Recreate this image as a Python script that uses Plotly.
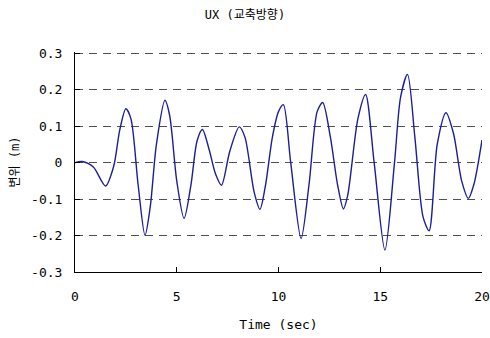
import plotly.graph_objects as go

time_s = [0, 0.35, 0.9, 1.5, 1.9, 2.2, 2.5, 2.75, 3.1, 3.44, 3.7, 4.0, 4.42, 4.65, 5.0, 5.36,
          5.7, 6.0, 6.26, 6.6, 6.9, 7.2, 7.6, 8.07, 8.35, 8.8, 9.09, 9.35, 9.7, 10.0, 10.24,
          10.6, 11.11, 11.5, 11.9, 12.17, 12.55, 12.9, 13.19, 13.4, 13.9, 14.28, 14.7, 15.23,
          15.7, 16.0, 16.34, 16.7, 17.1, 17.4, 17.8, 18.23, 18.6, 19.0, 19.33, 19.6, 20.0]
ux_m = [0, 0.003, -0.012, -0.064, -0.01, 0.09, 0.148, 0.12, -0.06, -0.199, -0.12, 0.05, 0.171,
        0.13, -0.05, -0.153, -0.06, 0.06, 0.091, 0.034, -0.03, -0.062, 0.03, 0.098, 0.07,
        -0.08, -0.128, -0.066, 0.07, 0.14, 0.159, 0.0, -0.208, -0.06, 0.14, 0.165, 0.07,
        -0.06, -0.127, -0.09, 0.12, 0.187, 0.0, -0.240, 0.0, 0.18, 0.242, 0.07, -0.148,
        -0.187, 0.05, 0.137, 0.08, -0.05, -0.098, -0.06, 0.062]

x_ticks = [0, 5, 10, 15, 20]
y_ticks = [-0.3, -0.2, -0.1, 0, 0.1, 0.2, 0.3]
y_labels = ["-0.3", "-0.2", "-0.1", "0", "0.1", "0.2", "0.3"]
y_range = [-0.3, 0.3035]  # small headroom so the 0.3 gridline is drawn

FONT = "DejaVu Sans Mono, Noto Sans CJK KR, sans-serif"
GRID = "#505050"
DASH = "8px,6px"

fig = go.Figure()
fig.add_trace(go.Scatter(x=time_s, y=ux_m, mode="lines",
                         line=dict(color="#1c1c9c", width=1.4, shape="spline", smoothing=0.8),
                         showlegend=False, hoverinfo="skip"))

fig.update_layout(
    width=490, height=338,
    margin=dict(l=75, r=8, t=52, b=66),
    paper_bgcolor="white", plot_bgcolor="white",
    font=dict(family=FONT, size=13, color="black"),
    title=dict(text="UX (교축방향)", x=0.5, xanchor="center", y=0.957, yanchor="middle",
               font=dict(family=FONT, size=12, color="black")),
    xaxis=dict(range=[0, 20], tickvals=x_ticks, ticks="inside", ticklen=5, tickcolor="black",
               showline=True, linecolor="black", linewidth=1, showgrid=False, zeroline=False,
               automargin=False, ticklabelstandoff=12,
               title=dict(text="Time (sec)", standoff=17, font=dict(size=13)),
               tickfont=dict(size=13)),
    yaxis=dict(range=y_range, tickvals=y_ticks, ticktext=y_labels, ticks="inside", ticklen=5,
               tickcolor="black", showline=True, linecolor="black", linewidth=1,
               showgrid=True, gridcolor=GRID, gridwidth=1, griddash=DASH,
               zeroline=False, automargin=False, ticklabelstandoff=9,
               title=dict(text="변위 (m)", standoff=8, font=dict(size=12)),
               tickfont=dict(size=13)),
)

fig.write_html("out.html")
